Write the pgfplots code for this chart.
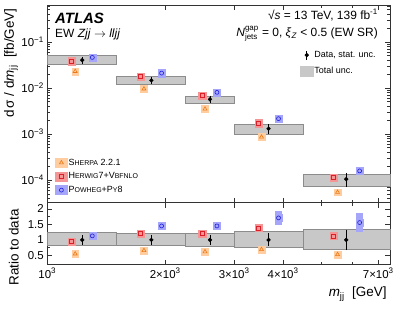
\documentclass[border=0pt]{standalone}
\usepackage{fontspec}
\setmainfont{Liberation Sans}
\usepackage{pgfplots}
\pgfplotsset{compat=1.18}
\definecolor{orgE}{RGB}{235,120,20}
\definecolor{orgB}{RGB}{255,205,160}
\definecolor{redE}{RGB}{220,30,40}
\definecolor{redB}{RGB}{245,150,150}
\definecolor{bluE}{RGB}{30,30,220}
\definecolor{bluB}{RGB}{165,165,250}
\definecolor{boxF}{RGB}{200,200,200}
\definecolor{boxE}{RGB}{140,140,140}
\newcommand\sm[1]{{\fontsize{7}{8}\selectfont #1}}
\pgfplotsset{
  ATbox/.style={fill=boxF, draw=boxE, line width=0.7bp},
  ATbgO/.style={only marks, mark=square*, mark size=3.4bp, orgB, mark options={draw=none, fill=orgB}},
  ATbgR/.style={only marks, mark=square*, mark size=3.6bp, redB, mark options={draw=none, fill=redB}},
  ATbgB/.style={only marks, mark=square*, mark size=3.6bp, bluB, mark options={draw=none, fill=bluB}},
  ATmkO/.style={only marks, mark=triangle, mark size=2.3bp, orgE, mark options={line width=0.6bp}},
  ATmkR/.style={only marks, mark=square, mark size=2.0bp, redE, mark options={line width=0.6bp}},
  ATmkB/.style={only marks, mark=o, mark size=2.0bp, bluE, mark options={line width=0.6bp}},
}
\begin{document}
\begin{tikzpicture}
\path[use as bounding box] (-47.3bp,-304bp) rectangle (351.7bp,5bp);
% ---------------- upper panel
\begin{loglogaxis}[scale only axis, width=342.7bp, height=197.7bp, xmin=1000, xmax=7500,
  tick align=inside, major tick length=5bp, minor tick length=3bp,
  axis line style={line width=0.6bp, black!80}, tick style={black!80, line width=0.5bp},
  tick label style={font=\fontsize{11.5}{12}\selectfont},
  label style={font=\fontsize{13.5}{14}\selectfont},
  xtick={1000,2000,3000,4000,7000}, minor xtick={5000,6000},
  name=top, at={(0,0)}, anchor=north west,
  ymin=3.2e-5, ymax=0.63, xticklabels={},
  ytick={1e-4,1e-3,1e-2,1e-1},
  yticklabels={10\textsuperscript{−4},10\textsuperscript{−3},10\textsuperscript{−2},10\textsuperscript{−1}},
  minor ytick={4e-5,5e-5,6e-5,7e-5,8e-5,9e-5,2e-4,3e-4,4e-4,5e-4,6e-4,7e-4,8e-4,9e-4,2e-3,3e-3,4e-3,5e-3,6e-3,7e-3,8e-3,9e-3,2e-2,3e-2,4e-2,5e-2,6e-2,7e-2,8e-2,9e-2,2e-1,3e-1,4e-1,5e-1,6e-1},
  ylabel={d\,σ / d\textit{m}\textsubscript{jj}\ \ [fb/GeV]},
  ylabel style={at={(axis description cs:-0.106,1)}, anchor=east},
  clip=false]
\addplot[ATbox] coordinates {(1000,0.0324) (1500,0.0324) (1500,0.0497) (1000,0.0497) (1000,0.0324)};
\addplot[ATbox] coordinates {(1500,0.0119) (2250,0.0119) (2250,0.0174) (1500,0.0174) (1500,0.0119)};
\addplot[ATbox] coordinates {(2250,0.00461) (3000,0.00461) (3000,0.00664) (2250,0.00664) (2250,0.00461)};
\addplot[ATbox] coordinates {(3000,0.00096) (4500,0.00096) (4500,0.00158) (3000,0.00158) (3000,0.00096)};
\addplot[ATbox] coordinates {(4500,7.2e-5) (7500,7.2e-5) (7500,1.33e-4) (4500,1.33e-4) (4500,7.2e-5)};
\addplot[ATbgO] coordinates {(1178,0.0228) (1765,0.0095) (2527,0.00347) (3523,0.000857) (5508,5.4e-5)};
\addplot[ATbgR] coordinates {(1154,0.0381) (1729,0.0174) (2487,0.00675) (3461,0.0017) (5374,1.12e-4)};
\addplot[ATbgB] coordinates {(1303,0.0458) (1958,0.0209) (2711,0.00798) (3894,0.00214) (6272,1.57e-4)};
\addplot[ATmkO] coordinates {(1178,0.0228) (1765,0.0095) (2527,0.00347) (3523,0.000857) (5508,5.4e-5)};
\addplot[ATmkR] coordinates {(1154,0.0381) (1729,0.0174) (2487,0.00675) (3461,0.0017) (5374,1.12e-4)};
\addplot[ATmkB] coordinates {(1303,0.0458) (1958,0.0209) (2711,0.00798) (3894,0.00214) (6272,1.57e-4)};
\addplot[only marks, mark=*, mark size=1.9bp, black]
  plot[error bars/.cd, y dir=both, y explicit, error mark=-, error mark options={mark size=1.2bp, line width=0.5bp}, error bar style={line width=0.7bp}]
  coordinates {(1228,0.0401) +- (0,0.0048) (1844,0.01455) +- (0,0.0019) (2602,0.00563) +- (0,0.00073) (3672,0.0013) +- (0,0.00022) (5797,1.04e-4) +- (0,3e-5)};
\node[anchor=west, inner sep=0pt, font=\fontsize{15}{16}\selectfont\bfseries\itshape] at (axis description cs:0.0225,0.933) {ATLAS};
\node[anchor=west, inner sep=0pt, font=\fontsize{12}{13}\selectfont] at (axis description cs:0.0225,0.852) {EW \textit{Zjj} $\rightarrow$ \textit{lljj}};
\node[anchor=east, inner sep=0pt, font=\fontsize{12}{13}\selectfont] at (axis description cs:0.965,0.949) {√\textit{s} = 13 TeV, 139 fb\textsuperscript{-1}};
\node[anchor=east, inner sep=0pt, font=\fontsize{12}{13}\selectfont] at (axis description cs:0.965,0.855) {$\textit{N}^{\mbox{\fontsize{8}{9}\selectfont gap}}_{\mbox{\fontsize{8}{9}\selectfont jets}}$ = 0, \textit{ξ}\textsubscript{\textit{Z}} < 0.5 (EW SR)};
\end{loglogaxis}
% legends (hidden axes)
\begin{axis}[at={(0,0)}, anchor=north west, scale only axis, width=342.7bp, height=197.7bp, hide axis,
  xmin=0, xmax=1, ymin=0, ymax=1,
  legend style={at={(axis description cs:0.737,0.772)}, anchor=north west, draw=none, fill=none,
    inner sep=0pt, row sep=6bp, font=\fontsize{9}{10}\selectfont, nodes={inner sep=1bp}},
  legend cell align=left]
\addlegendimage{legend image code/.code={\draw[black, line width=0.7bp] (6.5bp,-4.5bp) -- (6.5bp,4.5bp); \fill[black] (6.5bp,0bp) circle (1.9bp);}}
\addlegendentry{Data, stat. unc.}
\addlegendimage{legend image code/.code={\fill[boxF] (0bp,-5bp) rectangle (13bp,5bp);}}
\addlegendentry{Total unc.}
\end{axis}
\begin{axis}[at={(0,0)}, anchor=north west, scale only axis, width=342.7bp, height=197.7bp, hide axis,
  xmin=0, xmax=1, ymin=0, ymax=1,
  legend style={at={(axis description cs:0.0225,0.228)}, anchor=north west, draw=none, fill=none,
    inner sep=0pt, row sep=4bp, font=\fontsize{9}{10}\selectfont, nodes={inner sep=1bp}},
  legend cell align=left]
\addlegendimage{legend image code/.code={\fill[orgB] (0bp,-4.5bp) rectangle (12bp,4.5bp); \draw[orgE, line width=0.6bp, mark=triangle, mark size=2.3bp, only marks] plot coordinates {(6bp,0bp)};}}
\addlegendentry{S\sm{HERPA} 2.2.1}
\addlegendimage{legend image code/.code={\fill[redB] (0bp,-4.5bp) rectangle (12bp,4.5bp); \draw[redE, line width=0.6bp, mark=square, mark size=2bp, only marks] plot coordinates {(6bp,0bp)};}}
\addlegendentry{H\sm{ERWIG}7+V\sm{BFNLO}}
\addlegendimage{legend image code/.code={\fill[bluB] (0bp,-4.5bp) rectangle (12bp,4.5bp); \draw[bluE, line width=0.6bp, mark=o, mark size=2bp, only marks] plot coordinates {(6bp,0bp)};}}
\addlegendentry{P\sm{OWHEG}+P\sm{Y}8}
\end{axis}
% ---------------- ratio panel
\begin{semilogxaxis}[scale only axis, width=342.7bp, height=62bp, xmin=1000, xmax=7500,
  tick align=inside, major tick length=5bp, minor tick length=3bp,
  axis line style={line width=0.6bp, black!80}, tick style={black!80, line width=0.5bp},
  tick label style={font=\fontsize{11.5}{12}\selectfont},
  label style={font=\fontsize{13.5}{14}\selectfont},
  xtick={1000,2000,3000,4000,7000}, minor xtick={5000,6000},
  at={(top.south west)}, anchor=north west,
  ymin=0.2, ymax=2.2, ytick={0.5,1,1.5,2}, yticklabels={0.5,1,1.5,2}, minor y tick num=1,
  xticklabels={10\textsuperscript{3}, 2×10\textsuperscript{3}, 3×10\textsuperscript{3}, 4×10\textsuperscript{3}, 7×10\textsuperscript{3}},
  ylabel={Ratio to data},
  ylabel style={at={(axis description cs:-0.098,0.95)}, anchor=east},
  xlabel={\textit{m}\textsubscript{jj}\ \ [GeV]},
  xlabel style={at={(axis description cs:1,0)}, anchor=north east, yshift=-19bp},
  clip=false]
\addplot[ATbox] coordinates {(1000,0.81) (1500,0.81) (1500,1.23) (1000,1.23) (1000,0.81)};
\addplot[ATbox] coordinates {(1500,0.81) (2250,0.81) (2250,1.21) (1500,1.21) (1500,0.81)};
\addplot[ATbox] coordinates {(2250,0.79) (3000,0.79) (3000,1.20) (2250,1.20) (2250,0.79)};
\addplot[ATbox] coordinates {(3000,0.77) (4500,0.77) (4500,1.28) (3000,1.28) (3000,0.77)};
\addplot[ATbox] coordinates {(4500,0.71) (7500,0.71) (7500,1.35) (4500,1.35) (4500,0.71)};
\addplot[ATbgB]
  plot[error bars/.cd, y dir=both, y explicit, error mark=none, error bar style={line width=7bp, bluB}]
  coordinates {(3894,1.71) +- (0,0.22) (6272,1.56) +- (0,0.31)};
\addplot[ATbgO] coordinates {(1178,0.55) (1765,0.66) (2527,0.62) (3523,0.69) (5508,0.53)};
\addplot[ATbgR] coordinates {(1154,0.95) (1729,1.21) (2487,1.20) (3461,1.39) (5374,1.13)};
\addplot[ATbgB] coordinates {(1303,1.13) (1958,1.45) (2711,1.45) (3894,1.71) (6272,1.56)};
\addplot[ATmkO] coordinates {(1178,0.55) (1765,0.66) (2527,0.62) (3523,0.69) (5508,0.53)};
\addplot[ATmkR] coordinates {(1154,0.95) (1729,1.21) (2487,1.20) (3461,1.39) (5374,1.13)};
\addplot[ATmkB] coordinates {(1303,1.13) (1958,1.45) (2711,1.45) (3894,1.71) (6272,1.56)};
\addplot[only marks, mark=*, mark size=1.9bp, black]
  plot[error bars/.cd, y dir=both, y explicit, error mark=-, error mark options={mark size=1.2bp, line width=0.5bp}, error bar style={line width=0.7bp}]
  coordinates {(1228,1) +- (0,0.12) (1844,1) +- (0,0.13) (2602,1) +- (0,0.13) (3672,1) +- (0,0.17) (5797,1) +- (0,0.29)};
\end{semilogxaxis}
\end{tikzpicture}
\end{document}
